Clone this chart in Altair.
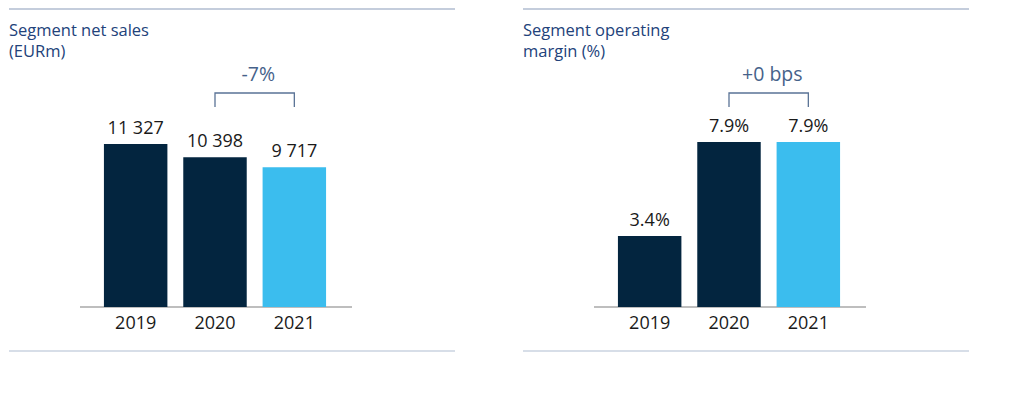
import altair as alt
import pandas as pd

# ---------------- data ----------------
years = ["2019", "2020", "2021"]
net_sales = [11327, 10398, 9717]
net_sales_labels = ["11 327", "10 398", "9 717"]
op_margin = [3.4, 7.9, 7.9]
op_margin_labels = ["3.4%", "7.9%", "7.9%"]
titles = ["Segment net sales\n(EURm)", "Segment operating\nmargin (%)"]
change_labels = ["-7%", "+0 bps"]
change_from, change_to = "2020", "2021"

# ---------------- style / layout ----------------
FONT = "Open Sans"
NAVY = "#03253f"
SKY = "#3bbdee"
TITLE_C = "#22427a"
BRACKET_C = "#5a7396"
CHANGE_TXT = "#46628a"
TEXT_C = "#1a1a1a"
SEP_C = "#b0bdd1"
BASE_C = "#a9a9a9"

W, H = 446, 342          # panel plot area
BASE = 298               # baseline pixel (from top)
TOP_PX = [163, 165]      # pixel height of the tallest bar in each panel
BR_TOP, BR_BOT = 84, 98  # bracket pixel rows


def panel(vals, labels, title, change, top_px):
    df = pd.DataFrame({
        "year": years,
        "value": vals,
        "label": labels,
        "zero": [0] * len(years),
        "grp": ["current" if y == years[-1] else "prior" for y in years],
    })
    upp = max(vals) / top_px
    y_scale = alt.Scale(domain=[-(H - BASE) * upp, BASE * upp], nice=False, zero=False)
    x_scale = alt.Scale(domain=years, range=[87, 325], paddingInner=0.2, paddingOuter=0.1)
    x = alt.X("year:N", scale=x_scale, axis=None)
    yq = alt.Y("value:Q", scale=y_scale, axis=None)

    bars = alt.Chart(df).mark_bar().encode(
        x=x,
        y=yq,
        y2=alt.Y2("zero"),
        color=alt.Color("grp:N", scale=alt.Scale(domain=["prior", "current"], range=[NAVY, SKY]), legend=None),
    )
    vlabels = alt.Chart(df).mark_text(dy=-10, baseline="alphabetic", font=FONT, fontSize=18, color=TEXT_C).encode(
        x=x, y=yq, text="label:N"
    )
    ylabels = alt.Chart(df).mark_text(dy=22, baseline="alphabetic", font=FONT, fontSize=18, color=TEXT_C).encode(
        x=x, y=alt.Y("zero:Q", scale=y_scale, axis=None), text="year:N"
    )
    one = alt.Chart(pd.DataFrame({"z": [0], "t": [title]}))
    baseline = one.mark_rule(color=BASE_C, strokeWidth=1.5).encode(
        x=alt.value(71), x2=alt.value(343), y=alt.Y("z:Q", scale=y_scale, axis=None)
    )
    top_sep = one.mark_rule(color=SEP_C, strokeWidth=1.6).encode(
        x=alt.value(0), x2=alt.value(W), y=alt.value(0)
    )
    bot_sep = one.mark_rule(color=SEP_C, strokeWidth=1.2).encode(
        x=alt.value(0), x2=alt.value(W), y=alt.value(H)
    )
    ttl = one.mark_text(
        align="left", baseline="alphabetic", lineHeight=21, lineBreak="\n",
        font=FONT, fontSize=16.5, color=TITLE_C
    ).encode(x=alt.value(0), y=alt.value(27), text="t:N")

    yt = (BASE - BR_TOP) * upp
    yb = (BASE - BR_BOT) * upp
    bdf = pd.DataFrame({
        "year": [change_from, change_from, change_to, change_to],
        "by": [yb, yt, yt, yb],
        "o": [0, 1, 2, 3],
    })
    bracket = alt.Chart(bdf).mark_line(color=BRACKET_C, strokeWidth=1.3).encode(
        x=x, y=alt.Y("by:Q", scale=y_scale, axis=None), order="o:Q"
    )
    cdf = pd.DataFrame({"year": [change_to], "label": [change]})
    c_txt = alt.Chart(cdf).mark_text(
        dx=-36, baseline="alphabetic", font=FONT, fontSize=19.5, color=CHANGE_TXT
    ).encode(x=x, y=alt.value(72), text="label:N")

    return alt.layer(top_sep, bot_sep, ttl, baseline, bars, vlabels, ylabels, bracket, c_txt).properties(
        width=W, height=H
    )


left = panel(net_sales, net_sales_labels, titles[0], change_labels[0], TOP_PX[0])
right = panel(op_margin, op_margin_labels, titles[1], change_labels[1], TOP_PX[1])

chart = alt.hconcat(left, right, spacing=66).resolve_scale(y="independent").configure(
    padding=0
).configure_view(stroke=None)

chart.save("out.html", embed_options={"renderer": "svg", "actions": False})
